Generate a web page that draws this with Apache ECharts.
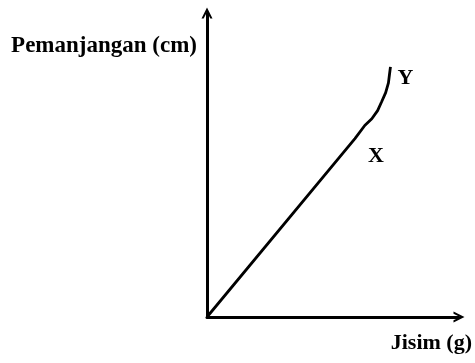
<!DOCTYPE html>
<html>
<head>
<meta charset="utf-8">
<script src="https://cdn.jsdelivr.net/npm/echarts@6/dist/echarts.min.js"></script>
<style>
  html, body { margin: 0; padding: 0; background: #fff; }
  #chart { width: 475px; height: 363px; }
</style>
</head>
<body>
<div id="chart"></div>
<script>
// mass (x) against extension (y), arbitrary units
const massX = [0, 5.87, 6.26, 6.54, 6.77, 6.93, 7.09, 7.20, 7.24, 7.28];
const extensionY = [0, 5.87, 6.30, 6.52, 6.79, 7.08, 7.38, 7.70, 7.97, 8.23];
const pointLabels = ["", "X", "", "", "", "", "", "", "", "Y"];
const labelOffsets = { X: [21, 18], Y: [15, 12] };

const FONT = "Liberation Serif";
// open chevron arrow head
const ARROW = "path://M0,10 L5,0 L10,10 L8,10 L5,4 L2,10 Z";

const chart = echarts.init(document.getElementById("chart"));

const points = massX.map((x, i) => {
  const name = pointLabels[i];
  if (!name) return [x, extensionY[i]];
  return {
    value: [x, extensionY[i]],
    label: {
      show: true,
      formatter: name,
      position: "inside",
      offset: labelOffsets[name],
      fontFamily: FONT,
      fontWeight: "bold",
      fontSize: 22,
      color: "#000",
    },
  };
});

const axisCommon = {
  type: "value",
  min: 0,
  max: 10,
  splitLine: { show: false },
  axisTick: { show: false },
  axisLabel: { show: false },
  axisLine: {
    show: true,
    symbol: ["none", ARROW],
    symbolSize: [13, 11],
    lineStyle: { color: "#000", width: 3 },
  },
};

chart.setOption({
  animation: false,
  grid: { left: 207, right: 15, top: 13, bottom: 46 },
  xAxis: {
    ...axisCommon,
    name: "Jisim (g)",
    nameLocation: "end",
    nameGap: 13,
    nameTextStyle: {
      fontFamily: FONT,
      fontWeight: "bold",
      fontSize: 22,
      color: "#000",
      align: "right",
      verticalAlign: "top",
      padding: [15, 0, 0, 0],
    },
  },
  yAxis: {
    ...axisCommon,
    name: "Pemanjangan (cm)",
    nameLocation: "end",
    nameGap: -33,
    nameTextStyle: {
      fontFamily: FONT,
      fontWeight: "bold",
      fontSize: 23,
      color: "#000",
      align: "right",
      verticalAlign: "middle",
      padding: [0, 10, 0, 0],
    },
  },
  series: [
    {
      type: "line",
      data: points,
      symbol: "circle",
      symbolSize: 1,
      showSymbol: true,
      itemStyle: { color: "rgba(0,0,0,0)" },
      lineStyle: { color: "#000", width: 2.8 },
      emphasis: { disabled: true },
    },
  ],
});
</script>
</body>
</html>
